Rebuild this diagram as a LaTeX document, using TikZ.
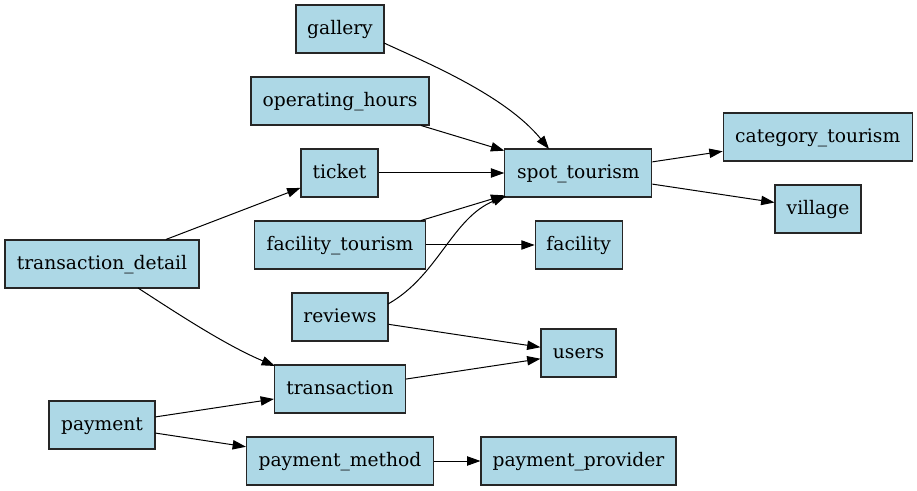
\documentclass[tikz,border=0pt]{standalone}
\usepackage{fontspec}
\setmainfont{DejaVu Serif}
\usetikzlibrary{arrows.meta}
\definecolor{lightblue}{HTML}{ADD8E6}
\begin{document}
\begin{tikzpicture}[x=0.75pt,y=-0.75pt,
  box/.style={draw=black!85,fill=lightblue,line width=0.8pt,minimum height=36pt,inner sep=0pt,text height=10.5pt,text depth=2.5pt,font=\fontsize{14pt}{16pt}\selectfont},
  edge/.style={line width=0.75pt,-{Triangle[length=10pt,width=7pt]}}]
\useasboundingbox (0,0) rectangle (917,491);
\node[box,minimum width=66pt]  (gallery) at (340,29) {gallery};
\node[box,minimum width=133.5pt] (hours) at (340,101) {operating\_hours};
\node[box,minimum width=57.75pt] (ticket) at (339.5,173) {ticket};
\node[box,minimum width=110.25pt] (spot) at (578.3,173) {spot\_tourism};
\node[box,minimum width=141.75pt] (cat) at (817.7,137) {category\_tourism};
\node[box,minimum width=64.5pt] (village) at (818,209) {village};
\node[box,minimum width=145.5pt] (tdetail) at (102,264) {transaction\_detail};
\node[box,minimum width=128.25pt] (ftour) at (340,245) {facility\_tourism};
\node[box,minimum width=65.25pt] (facility) at (578.7,245) {facility};
\node[box,minimum width=72pt] (reviews) at (340,317) {reviews};
\node[box,minimum width=56.25pt] (users) at (578.5,353) {users};
\node[box,minimum width=98.25pt] (trans) at (340,389) {transaction};
\node[box,minimum width=79.5pt] (payment) at (102,425) {payment};
\node[box,minimum width=140.25pt] (pmethod) at (340,461) {payment\_method};
\node[box,minimum width=146.25pt] (pprov) at (578.5,461) {payment\_provider};

\coordinate (galout) at (384,43);
\coordinate (spottop) at (549,149);
\coordinate (revout) at (388,304);
\coordinate (spotcorner) at (506,196);
\coordinate (tdout) at (138,288);
\coordinate (transin) at (275,366);

\draw[edge] (galout) .. controls (425,62) and (505,95) .. (spottop);
\draw[edge] (hours) -- (spot);
\draw[edge] (ticket) -- (spot);
\draw[edge] (tdetail) -- (ticket);
\draw[edge] (ftour) -- (spot);
\draw[edge] (revout) .. controls (438,276) and (452,218) .. (spotcorner);
\draw[edge] (ftour) -- (facility);
\draw[edge] (reviews) -- (users);
\draw[edge] (trans) -- (users);
\draw[edge] (tdout) .. controls (175,312) and (225,345) .. (transin);
\draw[edge] (payment) -- (trans);
\draw[edge] (payment) -- (pmethod);
\draw[edge] (pmethod) -- (pprov);
\draw[edge] (spot) -- (cat);
\draw[edge] (spot) -- (village);
\end{tikzpicture}
\end{document}
